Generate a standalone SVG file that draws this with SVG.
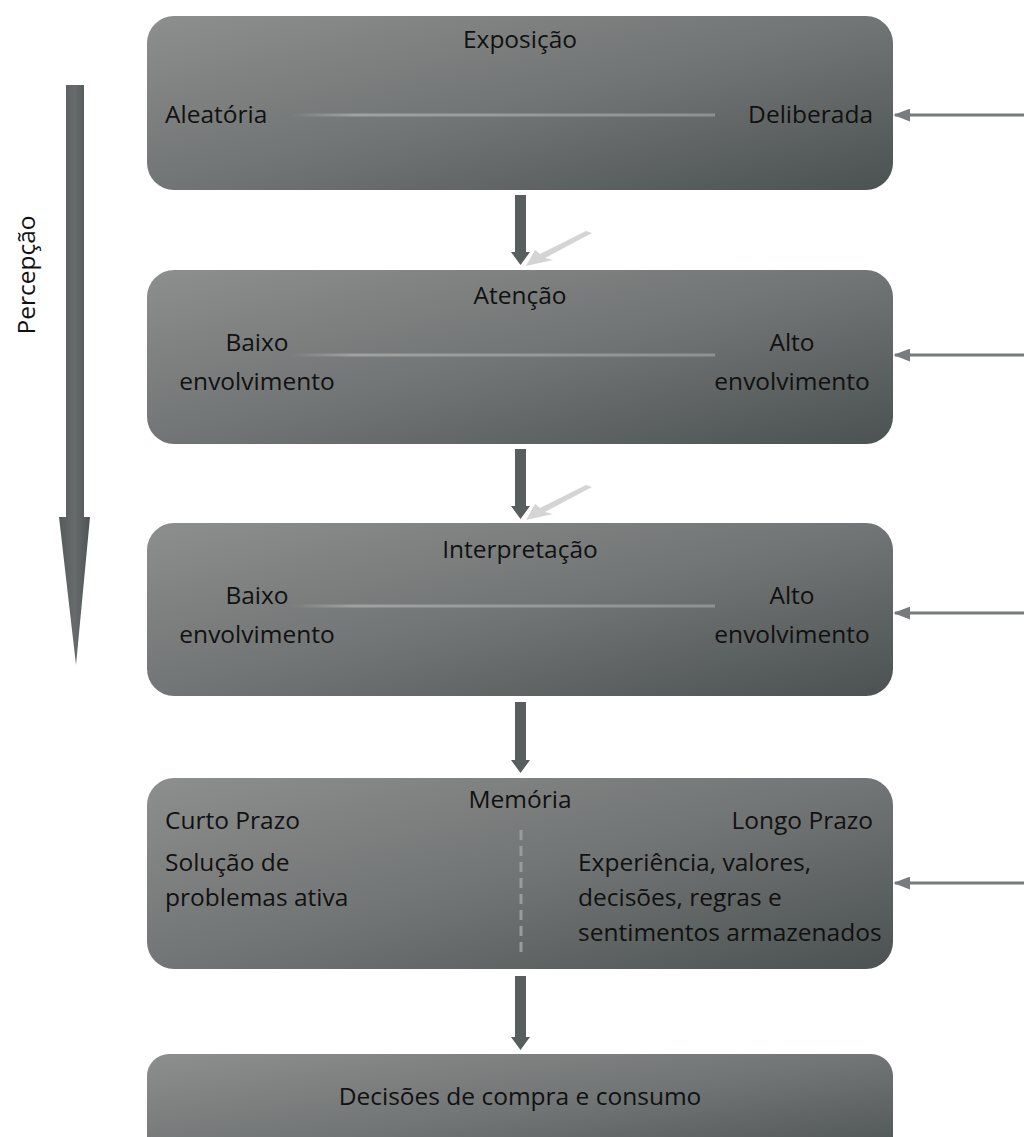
<svg xmlns="http://www.w3.org/2000/svg" width="1024" height="1137" viewBox="0 0 1024 1137">
<defs>
<linearGradient id="boxg" x1="0" y1="0" x2="1" y2="1">
<stop offset="0" stop-color="#8d8e8e"/>
<stop offset="0.5" stop-color="#727575"/>
<stop offset="1" stop-color="#4b5251"/>
</linearGradient>
<linearGradient id="divg" gradientUnits="userSpaceOnUse" x1="290" y1="0" x2="715" y2="0">
<stop offset="0" stop-color="#a0a2a2" stop-opacity="0"/>
<stop offset="0.15" stop-color="#a0a2a2"/>
<stop offset="1" stop-color="#8e9191"/>
</linearGradient>
<linearGradient id="percg" x1="0" y1="0" x2="1" y2="0">
<stop offset="0" stop-color="#555a5a"/>
<stop offset="0.5" stop-color="#676b6b"/>
<stop offset="1" stop-color="#4e5353"/>
</linearGradient>
<marker id="ah" viewBox="0 0 10 10" refX="9" refY="5" markerWidth="17" markerHeight="13" markerUnits="userSpaceOnUse" orient="auto" preserveAspectRatio="none">
<path d="M0,0 L10,5 L0,10 z" fill="#777b7b"/>
</marker>
<style>
.box{fill:url(#boxg);}
.t{font-family:"Open Sans","Liberation Sans",sans-serif;font-size:24.5px;fill:#111;}
.m{text-anchor:middle;}
.e{text-anchor:end;}
.div{stroke:url(#divg);stroke-width:3;}
.side{stroke:#777b7b;stroke-width:3;fill:none;}
.dn{fill:#585d5d;}
.sh{fill:#d4d4d4;}
</style>
</defs>
<rect width="1024" height="1137" fill="#ffffff"/>

<g id="percepcao">
<path d="M66,85 L84,85 L84,517 L90,517 L76,665 L59,517 L66,517 Z" fill="url(#percg)"/>
<text class="t m" transform="translate(35,275) rotate(-90)">Percepção</text>
</g>

<g id="exposicao">
<rect class="box" x="147" y="16" width="746" height="174" rx="27"/>
<line class="div" x1="290" y1="115" x2="715" y2="115"/>
<text class="t m" x="520" y="48">Exposição</text>
<text class="t" x="165" y="123">Aleatória</text>
<text class="t e" x="873" y="123">Deliberada</text>
</g>

<g id="atencao">
<rect class="box" x="147" y="270" width="746" height="174" rx="27"/>
<line class="div" x1="290" y1="355" x2="715" y2="355"/>
<text class="t m" x="520" y="304">Atenção</text>
<text class="t m" x="257" y="351">Baixo</text>
<text class="t m" x="257" y="390">envolvimento</text>
<text class="t m" x="792" y="351">Alto</text>
<text class="t m" x="792" y="390">envolvimento</text>
</g>

<g id="interpretacao">
<rect class="box" x="147" y="523" width="746" height="173" rx="27"/>
<line class="div" x1="290" y1="606" x2="715" y2="606"/>
<text class="t m" x="520" y="558">Interpretação</text>
<text class="t m" x="257" y="604">Baixo</text>
<text class="t m" x="257" y="643">envolvimento</text>
<text class="t m" x="792" y="604">Alto</text>
<text class="t m" x="792" y="643">envolvimento</text>
</g>

<g id="memoria">
<rect class="box" x="147" y="778" width="746" height="191" rx="27"/>
<line x1="521" y1="830" x2="521" y2="956" stroke="#9a9c9c" stroke-width="3" stroke-dasharray="10,6"/>
<text class="t m" x="520" y="808">Memória</text>
<text class="t" x="165" y="829">Curto Prazo</text>
<text class="t e" x="873" y="829">Longo Prazo</text>
<text class="t" x="165" y="871">Solução de</text>
<text class="t" x="165" y="906">problemas ativa</text>
<text class="t" x="578" y="871">Experiência, valores,</text>
<text class="t" x="578" y="906">decisões, regras e</text>
<text class="t" x="578" y="941">sentimentos armazenados</text>
</g>

<g id="decisoes">
<rect class="box" x="147" y="1054" width="746" height="110" rx="22"/>
<text class="t m" x="520" y="1105">Decisões de compra e consumo</text>
</g>

<g id="connectors">
<polygon class="sh" points="586,231 592,233 545,258 553,260 526,266 535,250 540,254"/>
<polygon class="sh" points="586,485 592,487 545,512 553,514 526,520 535,504 540,508"/>
<path class="dn" d="M515,195 L526,195 L526,252 L530,252 L520.5,265 L511,252 L515,252 Z"/>
<path class="dn" d="M515,449 L526,449 L526,506 L530,506 L520.5,519 L511,506 L515,506 Z"/>
<path class="dn" d="M515,702 L526,702 L526,760 L530,760 L520.5,773 L511,760 L515,760 Z"/>
<path class="dn" d="M515,976 L526,976 L526,1037 L530,1037 L520.5,1050 L511,1037 L515,1037 Z"/>
<line class="side" x1="1024" y1="115" x2="895" y2="115" marker-end="url(#ah)"/>
<line class="side" x1="1024" y1="355" x2="895" y2="355" marker-end="url(#ah)"/>
<line class="side" x1="1024" y1="613" x2="895" y2="613" marker-end="url(#ah)"/>
<line class="side" x1="1024" y1="883" x2="895" y2="883" marker-end="url(#ah)"/>
</g>
</svg>
